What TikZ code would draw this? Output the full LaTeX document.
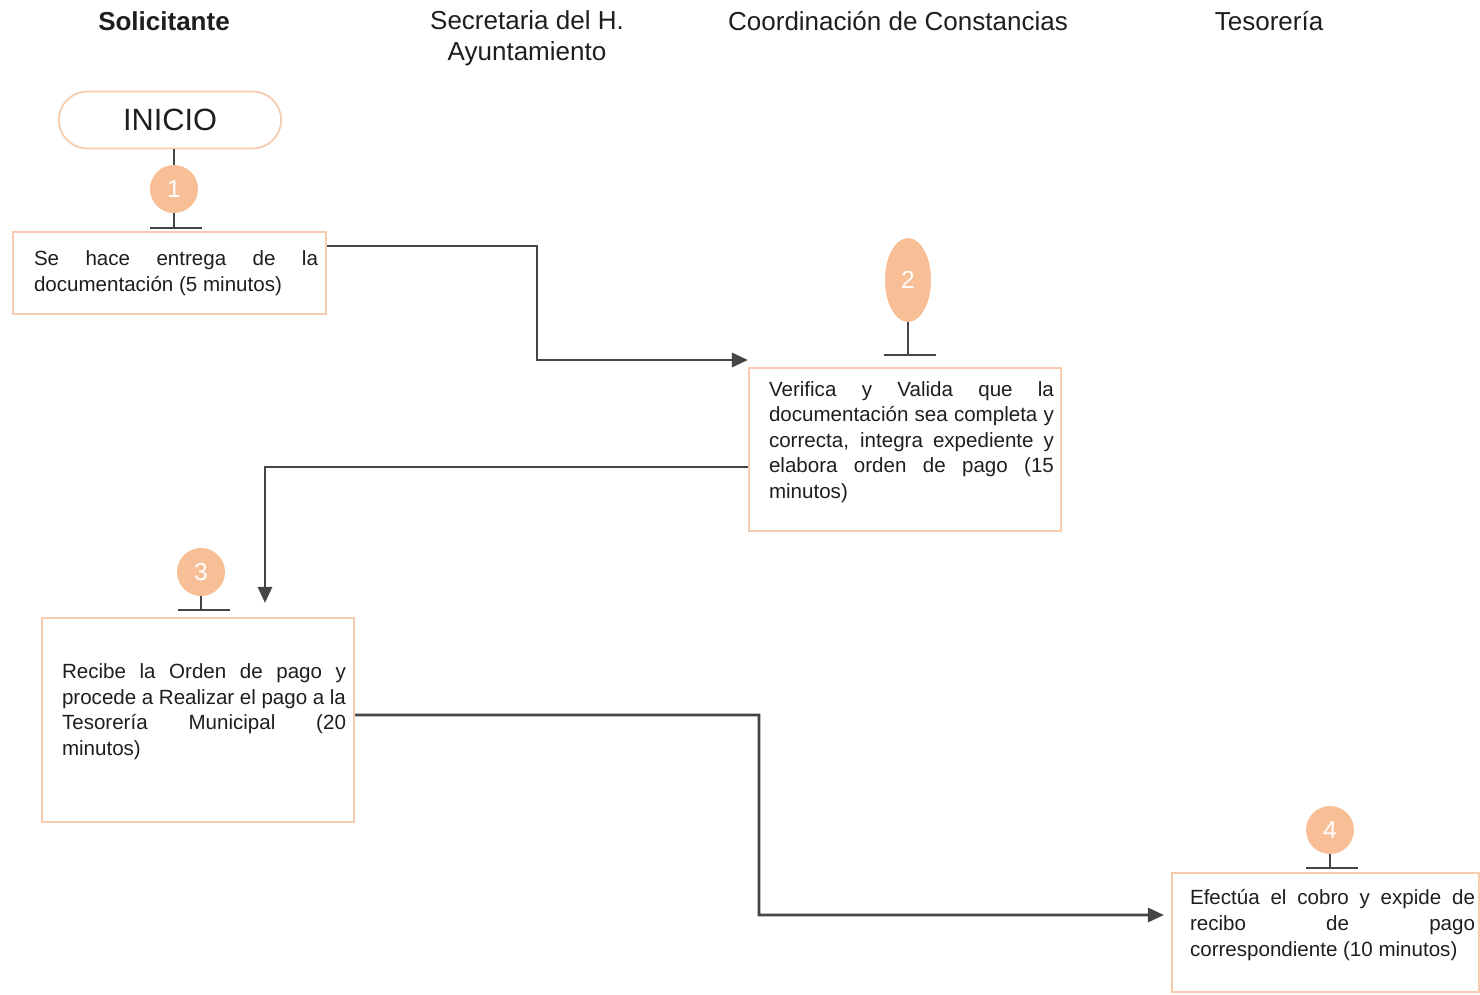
\documentclass[tikz,border=0pt]{standalone}
\usepackage{fontspec}
\setmainfont{Liberation Sans}
\usepackage{tikz}
\usetikzlibrary{shapes.misc}
\usetikzlibrary{shapes.geometric}
\usetikzlibrary{arrows.meta}
\definecolor{durazno}{HTML}{F8CBAD}
\definecolor{naranja}{HTML}{F8BF96}
\definecolor{gris}{HTML}{454545}
\definecolor{tinta}{HTML}{1E1E1E}
\newcommand{\cab}{\fontsize{14.8}{17.5}\selectfont}
\newcommand{\txt}{\fontsize{11.7}{14.6}\selectfont}
\tolerance=9999

\begin{document}
\begin{tikzpicture}[x=0.02cm,y=-0.02cm,
  caja/.style={rectangle,draw=durazno,line width=1.2pt,fill=white,inner sep=0pt,
               align=justify,font=\txt,text=tinta},
  paso/.style={circle,fill=naranja,minimum size=0.96cm,inner sep=0pt,text=white,
               font=\fontsize{14}{14}\selectfont},
  flecha/.style={draw=gris,line width=1.6pt,-{Triangle[length=0.32cm,width=0.28cm]}},
  marca/.style={draw=gris,line width=1.1pt}]
 \useasboundingbox (0,0) rectangle (1480,994);

 % encabezados
 \draw (164,21)  node[font=\cab\bfseries,text=tinta] (h1) {Solicitante};
 \draw (527,38)  node[font=\cab,text=tinta,align=center] (h2) {Secretaria del H.\\Ayuntamiento};
 \draw (898,21)  node[font=\cab,text=tinta] (h3) {Coordinación de Constancias};
 \draw (1269,21) node[font=\cab,text=tinta] (h4) {Tesorería};

 \draw (170,120) node[rounded rectangle,draw=durazno,line width=1pt,minimum width=4.68cm,
                      minimum height=1.14cm,text=tinta,font=\fontsize{17.5}{20}\selectfont] (ini)
              {INICIO};

 % pasos
 \draw (174,189)  node[paso] (p1) {1};
 \draw (908,280)  node[paso,ellipse,minimum width=0.92cm,minimum height=1.68cm] (p2) {2};
 \draw (201,572)  node[paso] (p3) {3};
 \draw (1330,830) node[paso] (p4) {4};

 \coordinate (t1) at (176,228);
 \coordinate (t2) at (910,355);
 \coordinate (t3) at (204,610);
 \coordinate (t4) at (1332,868);

 % cajas
 \draw (169.5,273) node[caja,minimum width=6.26cm,minimum height=1.64cm,text width=5.94cm] (b1)
              {\leftskip=0.26cm Se hace entrega de la\linebreak documentación (5 minutos)\par};

 \draw (905,449.5) node[caja,minimum width=6.24cm,minimum height=3.26cm,text width=5.96cm] (b2)
              {\leftskip=0.26cm Verifica y Valida que la\linebreak
               documentación sea completa y\linebreak
               correcta, integra expediente y\linebreak
               elabora orden de pago (15\linebreak
               minutos)\par\vspace{0.3cm}};

 \draw (198,720) node[caja,minimum width=6.24cm,minimum height=4.08cm,text width=5.92cm] (b3)
              {\leftskip=0.24cm Recibe la Orden de pago y\linebreak
               procede a Realizar el pago a la\linebreak
               Tesorería Municipal (20\linebreak
               minutos)\par\vspace{0.34cm}};

 \draw (1325.5,932.5) node[caja,minimum width=6.14cm,minimum height=2.38cm,text width=5.98cm] (b4)
              {\leftskip=0.28cm Efectúa el cobro y expide de\linebreak
               recibo de pago\linebreak
               correspondiente (10 minutos)\par\vspace{0.3cm}};

 % uniones
 \draw[marca] (ini.south -| p1) -- (p1.north);
 \draw[marca] (p1.south) -- (p1 |- t1);
 \draw[marca] (p2.south) -- (p2 |- t2);
 \draw[marca] (p3.south) -- (p3 |- t3);
 \draw[marca] (p4.south) -- (p4 |- t4);
 \foreach \t in {t1,t2,t3,t4}
   \draw[marca] ([xshift=-0.52cm]\t) -- ([xshift=0.52cm]\t);

 \coordinate (codo1) at (537,360);
 \draw[flecha] ([yshift=-0.3cm]b1.north east) -| (codo1) -- (codo1 -| b2.west);
 \draw[flecha] ([yshift=-0.35cm]b2.west) -| ([xshift=1.34cm,yshift=0.28cm]b3.north);
 \draw[flecha] ([yshift=0.1cm]b3.east) -| (759,915) -- ([xshift=-0.14cm,yshift=0.35cm]b4.west);

\end{tikzpicture}
\end{document}
